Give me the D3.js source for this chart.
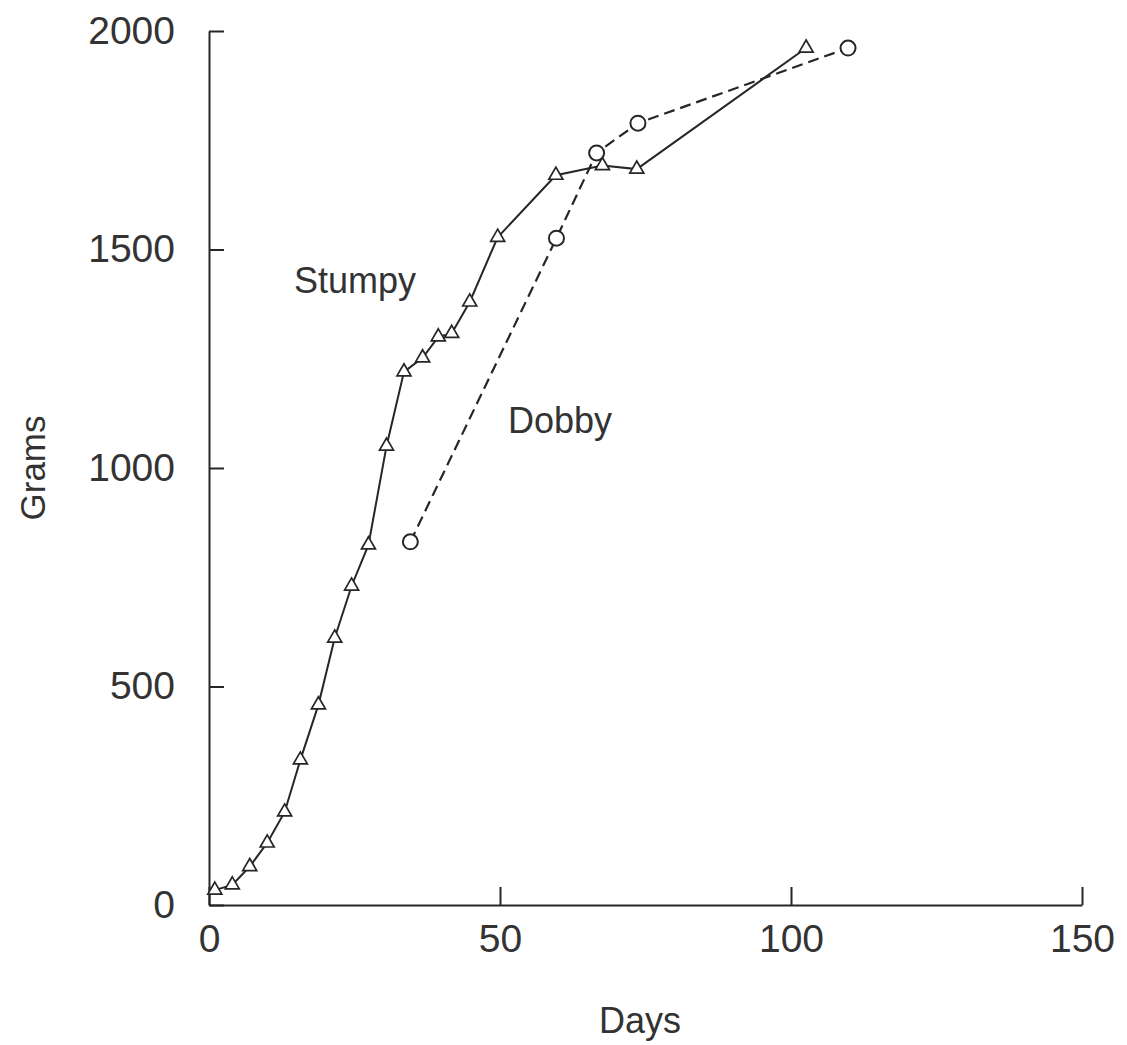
<!DOCTYPE html>
<html>
<head>
<meta charset="utf-8">
<script src="https://cdn.jsdelivr.net/npm/d3@7"></script>
<style>
  body { margin: 0; background: #fff; }
  svg text { font-family: "Liberation Sans", Arial, sans-serif; fill: #333; }
</style>
</head>
<body>
<svg id="chart" width="1127" height="1045"></svg>
<script>
var WIDTH = 1127;
var HEIGHT = 1045;
var MARGIN = { top: 31, right: 45, bottom: 140, left: 209 };

// Stumpy (triangles, solid line)
var stumpyDays = [1, 4, 7, 10, 13, 15.7, 18.8, 21.6, 24.5, 27.4, 30.5, 33.5, 36.7, 39.4, 41.7, 44.8, 49.6, 59.6, 67.6, 73.5, 102.6];
var stumpyGrams = [34, 46, 88, 142, 213, 332, 458, 611, 730, 824, 1050, 1220, 1252, 1300, 1308, 1380, 1528, 1670, 1692, 1684, 1961];

// Dobby (circles, dashed line)
var dobbyDays = [34.6, 59.7, 66.6, 73.7, 109.8];
var dobbyGrams = [831, 1526, 1721, 1789, 1961];

var xTicks = [0, 50, 100, 150];
var yTicks = [0, 500, 1000, 1500, 2000];

var svg = d3.select('#chart');

var x = d3.scaleLinear().domain([0, 150]).range([MARGIN.left, WIDTH - MARGIN.right]);
var y = d3.scaleLinear().domain([0, 2000]).range([HEIGHT - MARGIN.bottom, MARGIN.top]);

var ink = '#262626';

// axes
var xAxis = svg.append('g')
  .attr('transform', 'translate(0,' + y(0) + ')')
  .call(d3.axisBottom(x).tickValues(xTicks).tickFormat(d3.format('d'))
    .tickSizeInner(-18).tickSizeOuter(0).tickPadding(19));

var yAxis = svg.append('g')
  .attr('transform', 'translate(' + x(0) + ',0)')
  .call(d3.axisLeft(y).tickValues(yTicks).tickFormat(d3.format('d'))
    .tickSizeInner(-15).tickSizeOuter(0).tickPadding(34));

[xAxis, yAxis].forEach(function (g) {
  g.selectAll('path.domain').attr('stroke', ink).attr('stroke-width', 2);
  g.selectAll('.tick line').attr('stroke', ink).attr('stroke-width', 2);
  g.selectAll('.tick text')
    .style('font-family', '"Liberation Sans", Arial, sans-serif')
    .style('font-size', '39px')
    .attr('fill', '#333');
});

// axis titles
svg.append('text')
  .attr('x', 640)
  .attr('y', 1033)
  .attr('text-anchor', 'middle')
  .style('font-size', '36px')
  .text('Days');

svg.append('text')
  .attr('transform', 'translate(45,468) rotate(-90)')
  .attr('text-anchor', 'middle')
  .style('font-size', '35px')
  .text('Grams');

// lines
var stumpy = stumpyDays.map(function (d, i) { return [d, stumpyGrams[i]]; });
var dobby = dobbyDays.map(function (d, i) { return [d, dobbyGrams[i]]; });

var line = d3.line()
  .x(function (d) { return x(d[0]); })
  .y(function (d) { return y(d[1]); });

svg.append('path')
  .datum(stumpy)
  .attr('d', line)
  .attr('fill', 'none')
  .attr('stroke', ink)
  .attr('stroke-width', 2);

svg.append('path')
  .datum(dobby)
  .attr('d', line)
  .attr('fill', 'none')
  .attr('stroke', ink)
  .attr('stroke-width', 2.2)
  .attr('stroke-dasharray', '11,6');

// markers
svg.selectAll('.tri')
  .data(stumpy)
  .enter().append('path')
  .attr('class', 'tri')
  .attr('d', d3.symbol().type(d3.symbolTriangle).size(85))
  .attr('transform', function (d) { return 'translate(' + x(d[0]) + ',' + y(d[1]) + ')'; })
  .attr('fill', '#fff')
  .attr('stroke', ink)
  .attr('stroke-width', 1.7);

svg.selectAll('.circ')
  .data(dobby)
  .enter().append('circle')
  .attr('class', 'circ')
  .attr('cx', function (d) { return x(d[0]); })
  .attr('cy', function (d) { return y(d[1]); })
  .attr('r', 7.5)
  .attr('fill', '#fff')
  .attr('stroke', ink)
  .attr('stroke-width', 2);

// series labels
svg.append('text')
  .attr('x', 294)
  .attr('y', 293)
  .style('font-size', '36px')
  .text('Stumpy');

svg.append('text')
  .attr('x', 508)
  .attr('y', 433)
  .style('font-size', '36px')
  .text('Dobby');
</script>
</body>
</html>
